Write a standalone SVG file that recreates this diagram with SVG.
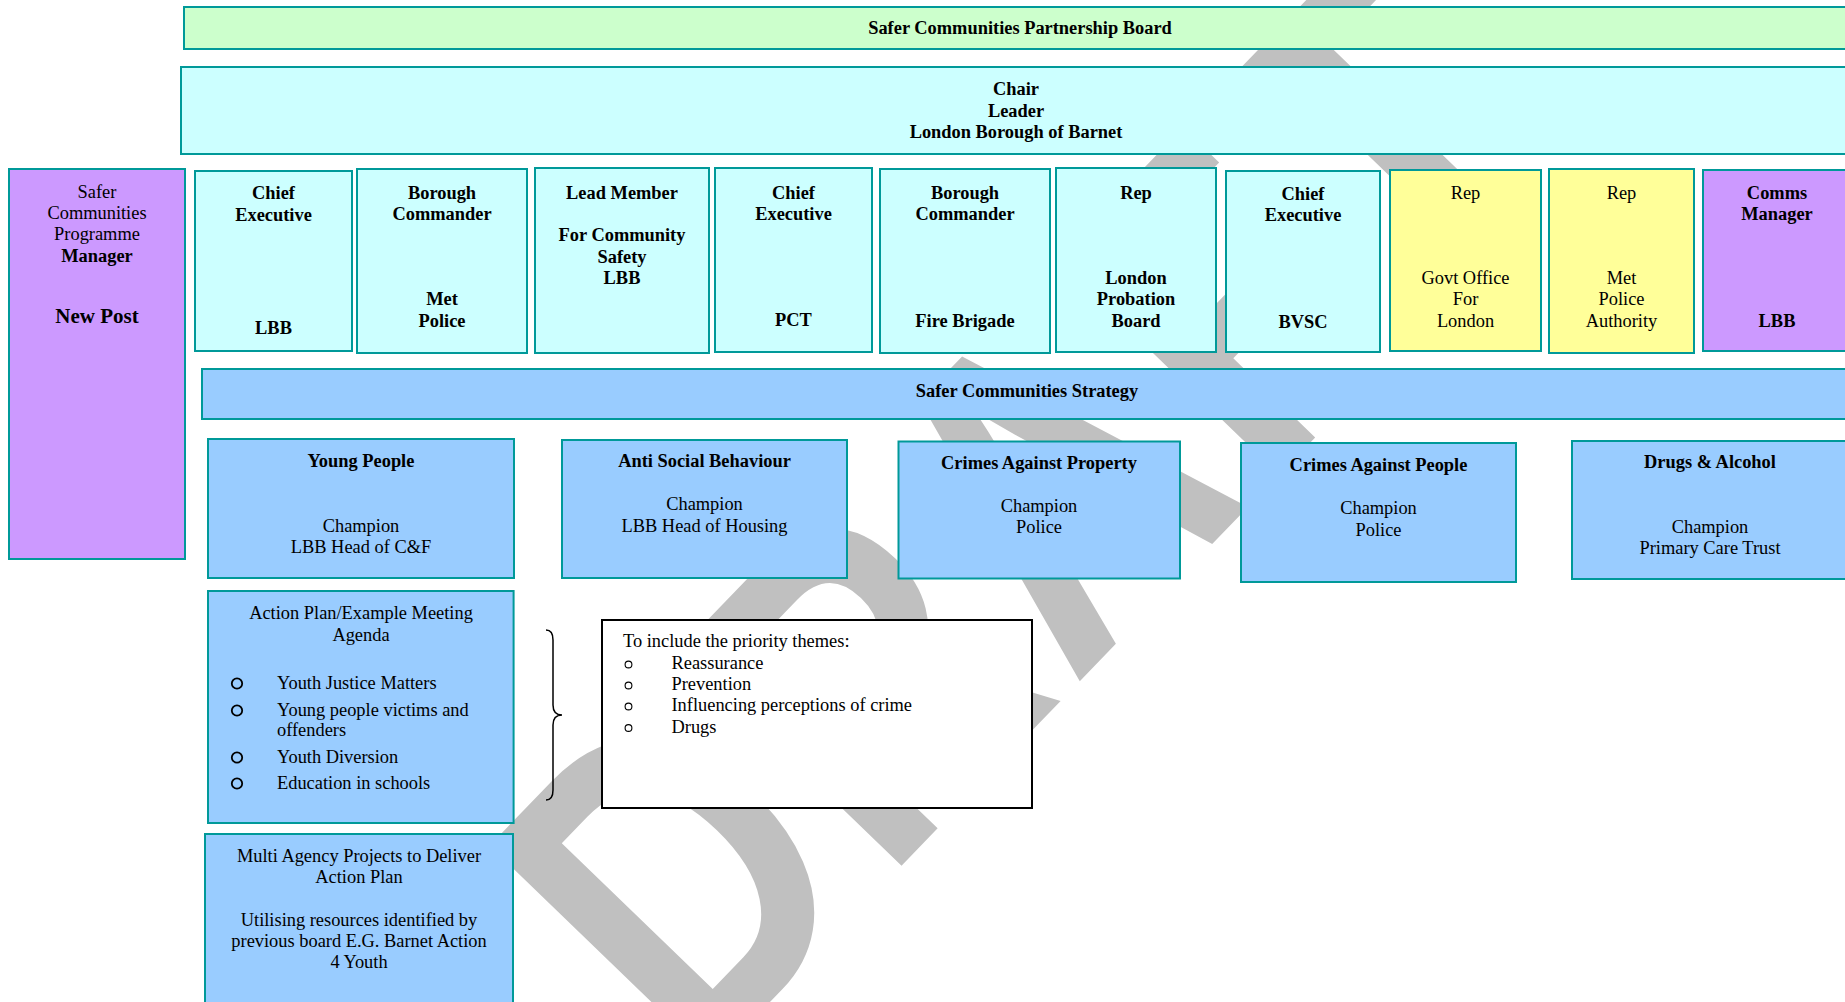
<svg xmlns="http://www.w3.org/2000/svg" width="1845" height="1002" viewBox="0 0 1845 1002">
<defs>
<style>
.wm{font-family:"Liberation Sans",Arial,sans-serif;font-weight:bold;font-size:451px;letter-spacing:14px;fill:#c0c0c0}
.box{stroke:#009999;stroke-width:2}
.g{fill:#ccffcc}.c{fill:#ccffff}.p{fill:#cc99ff}.y{fill:#ffff99}.bl{fill:#99ccff}
text{font-family:"Liberation Serif","Times New Roman",serif;font-size:18.4px;fill:#000}
.b{font-weight:bold;text-anchor:middle}
.r{text-anchor:middle}
.l{text-anchor:start}
.big{font-size:21px}
.bul{fill:none;stroke:#000;stroke-width:1.8}
.bul2{fill:none;stroke:#000;stroke-width:1.1}
</style>
</defs>
<rect width="1845" height="1002" fill="#ffffff"/>
<g id="watermark">
<text class="wm" transform="translate(696,1078.6) rotate(-46) scale(0.8,1)" x="0" y="0">DRAFT</text>
</g>
<g id="connectors">
<path d="M546,630 Q553,630 553,640 L553,705 Q553,715 562,715 Q553,715 553,725 L553,790 Q553,800 546,800" fill="none" stroke="#000" stroke-width="1.5"/>
</g>
<g id="board"><rect class="box g" x="184" y="7" width="1676" height="42"/><text class="b" x="1020" y="34">Safer Communities Partnership Board</text></g>
<g id="chair"><rect class="box c" x="181" y="67" width="1680" height="87"/>
<text class="b" x="1016" y="95">Chair</text><text class="b" x="1016" y="116.5">Leader</text><text class="b" x="1016" y="138">London Borough of Barnet</text></g>
<g id="programme-manager"><rect class="box p" x="9" y="169" width="176" height="390"/>
<text class="r" x="97" y="197.5">Safer</text><text class="r" x="97" y="219">Communities</text><text class="r" x="97" y="240">Programme</text><text class="b" x="97" y="262">Manager</text><text class="b big" x="97" y="323">New Post</text></g>
<g id="ce-lbb"><rect class="box c" x="195" y="171" width="157" height="180"/>
<text class="b" x="273.5" y="198.5">Chief</text><text class="b" x="273.5" y="220.5">Executive</text><text class="b" x="273.5" y="334">LBB</text></g>
<g id="bc-met"><rect class="box c" x="357" y="169" width="170" height="184"/>
<text class="b" x="442" y="198.5">Borough</text><text class="b" x="442" y="220">Commander</text><text class="b" x="442" y="305">Met</text><text class="b" x="442" y="326.5">Police</text></g>
<g id="lead-member"><rect class="box c" x="535" y="168" width="174" height="185"/>
<text class="b" x="622" y="198.5">Lead Member</text><text class="b" x="622" y="241">For Community</text><text class="b" x="622" y="262.5">Safety</text><text class="b" x="622" y="284">LBB</text></g>
<g id="ce-pct"><rect class="box c" x="715" y="168" width="157" height="184"/>
<text class="b" x="793.5" y="198.5">Chief</text><text class="b" x="793.5" y="220">Executive</text><text class="b" x="793.5" y="326">PCT</text></g>
<g id="bc-fire"><rect class="box c" x="880" y="169" width="170" height="184"/>
<text class="b" x="965" y="198.5">Borough</text><text class="b" x="965" y="220">Commander</text><text class="b" x="965" y="326.5">Fire Brigade</text></g>
<g id="rep-probation"><rect class="box c" x="1056" y="168" width="160" height="184"/>
<text class="b" x="1136" y="198.5">Rep</text><text class="b" x="1136" y="284">London</text><text class="b" x="1136" y="305">Probation</text><text class="b" x="1136" y="326.5">Board</text></g>
<g id="ce-bvsc"><rect class="box c" x="1226" y="171" width="154" height="181"/>
<text class="b" x="1303" y="200">Chief</text><text class="b" x="1303" y="221">Executive</text><text class="b" x="1303" y="328">BVSC</text></g>
<g id="rep-govt"><rect class="box y" x="1390" y="170" width="151" height="181"/>
<text class="r" x="1465.5" y="199">Rep</text><text class="r" x="1465.5" y="284">Govt Office</text><text class="r" x="1465.5" y="305">For</text><text class="r" x="1465.5" y="326.5">London</text></g>
<g id="rep-mpa"><rect class="box y" x="1549" y="169" width="145" height="184"/>
<text class="r" x="1621.5" y="199">Rep</text><text class="r" x="1621.5" y="284">Met</text><text class="r" x="1621.5" y="305">Police</text><text class="r" x="1621.5" y="326.5">Authority</text></g>
<g id="comms"><rect class="box p" x="1703" y="170" width="150" height="181"/>
<text class="b" x="1777" y="199">Comms</text><text class="b" x="1777" y="220">Manager</text><text class="b" x="1777" y="327">LBB</text></g>
<g id="strategy"><rect class="box bl" x="202" y="369" width="1650" height="50"/><text class="b" x="1027" y="397">Safer Communities Strategy</text></g>
<g id="young-people"><rect class="box bl" x="208" y="439" width="306" height="139"/>
<text class="b" x="361" y="467">Young People</text><text class="r" x="361" y="531.5">Champion</text><text class="r" x="361" y="553">LBB Head of C&amp;F</text></g>
<g id="asb"><rect class="box bl" x="562" y="440" width="285" height="138"/>
<text class="b" x="704.5" y="467">Anti Social Behaviour</text><text class="r" x="704.5" y="510">Champion</text><text class="r" x="704.5" y="531.5">LBB Head of Housing</text></g>
<g id="property"><rect class="box bl" x="898.5" y="441.5" width="281.5" height="137"/>
<text class="b" x="1039" y="469">Crimes Against Property</text><text class="r" x="1039" y="511.5">Champion</text><text class="r" x="1039" y="533">Police</text></g>
<g id="people"><rect class="box bl" x="1241" y="443" width="275" height="139"/>
<text class="b" x="1378.5" y="471">Crimes Against People</text><text class="r" x="1378.5" y="514">Champion</text><text class="r" x="1378.5" y="535.5">Police</text></g>
<g id="drugs"><rect class="box bl" x="1572" y="441" width="276" height="138"/>
<text class="b" x="1710" y="468">Drugs &amp; Alcohol</text><text class="r" x="1710" y="532.5">Champion</text><text class="r" x="1710" y="554">Primary Care Trust</text></g>
<g id="action-plan"><rect class="box bl" x="208" y="591" width="305.6" height="232"/>
<text class="r" x="361" y="619">Action Plan/Example Meeting</text><text class="r" x="361" y="640.5">Agenda</text>
<circle class="bul" cx="237" cy="683.5" r="5.2"/><text class="l" x="277" y="688.5">Youth Justice Matters</text>
<circle class="bul" cx="237" cy="710.5" r="5.2"/><text class="l" x="277" y="715.5">Young people victims and</text><text class="l" x="277" y="735.5">offenders</text>
<circle class="bul" cx="237" cy="757.5" r="5.2"/><text class="l" x="277" y="762.5">Youth Diversion</text>
<circle class="bul" cx="237" cy="783.5" r="5.2"/><text class="l" x="277" y="788.5">Education in schools</text></g>
<g id="themes"><rect x="602" y="620" width="430" height="188" fill="#ffffff" stroke="#000" stroke-width="2"/>
<text class="l" x="623" y="647">To include the priority themes:</text>
<circle class="bul2" cx="628.5" cy="664.5" r="3.4"/><text class="l" x="671.5" y="669">Reassurance</text>
<circle class="bul2" cx="628.5" cy="685.5" r="3.4"/><text class="l" x="671.5" y="690">Prevention</text>
<circle class="bul2" cx="628.5" cy="706.5" r="3.4"/><text class="l" x="671.5" y="711">Influencing perceptions of crime</text>
<circle class="bul2" cx="628.5" cy="728" r="3.4"/><text class="l" x="671.5" y="732.5">Drugs</text></g>
<g id="multi-agency"><rect class="box bl" x="205" y="834" width="308" height="200"/>
<text class="r" x="359" y="862">Multi Agency Projects to Deliver</text><text class="r" x="359" y="883">Action Plan</text>
<text class="r" x="359" y="926">Utilising resources identified by</text><text class="r" x="359" y="947">previous board E.G. Barnet Action</text><text class="r" x="359" y="968">4 Youth</text></g>
</svg>
